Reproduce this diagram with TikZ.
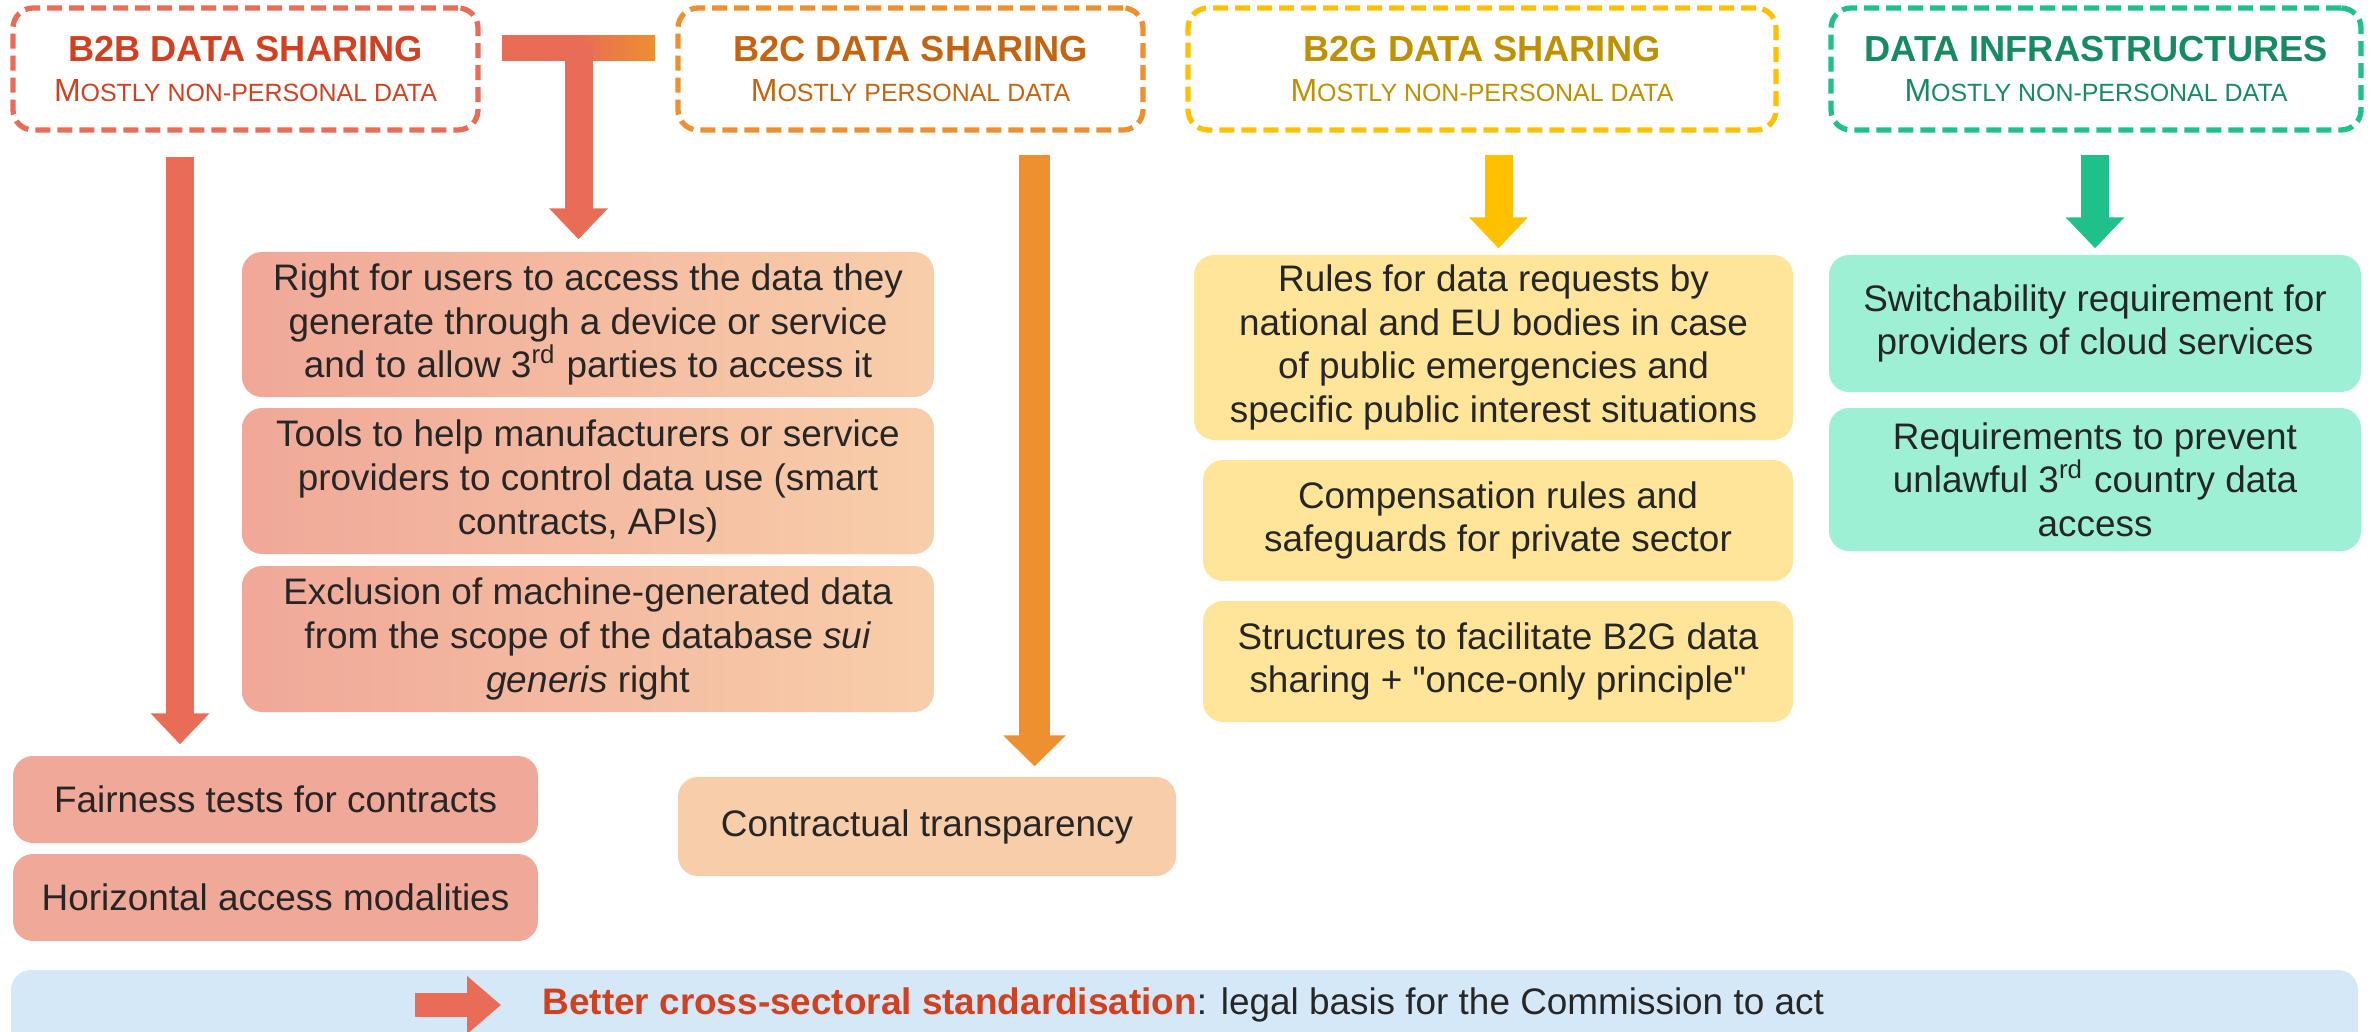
\documentclass[tikz,border=0pt]{standalone}
\usepackage{fontspec}
\setmainfont{Liberation Sans}
\usetikzlibrary{arrows.meta}

\definecolor{b2bline}{RGB}{232,108,86}
\definecolor{b2btext}{RGB}{210,64,32}
\definecolor{b2bfill}{RGB}{240,168,152}
\definecolor{b2cline}{RGB}{238,143,48}
\definecolor{b2ctext}{RGB}{196,100,16}
\definecolor{b2cfill}{RGB}{248,206,170}
\definecolor{b2gline}{RGB}{255,192,0}
\definecolor{b2gtext}{RGB}{191,144,0}
\definecolor{b2gfill}{RGB}{255,229,153}
\definecolor{infline}{RGB}{32,192,138}
\definecolor{inftext}{RGB}{22,138,96}
\definecolor{inffill}{RGB}{157,240,212}
\definecolor{barfill}{RGB}{213,232,247}
\definecolor{txt}{RGB}{38,38,38}

\tikzset{
	hdr/.style={draw=#1, line width=1.5pt, dash pattern=on 0.15cm off 0.07cm,
		rounded corners=0.2cm, minimum height=1.22cm, align=center, inner sep=0,
		font=\fontsize{9.1}{11.2}\selectfont},
	item/.style={rounded corners=0.2cm, align=center, inner sep=0, text=txt,
		font=\fontsize{10.5}{12.4}\selectfont},
	fat/.style={line width=0.28cm, -{Triangle[width=0.57cm,length=0.31cm]}},
}
\newcommand{\hdtitle}{\fontsize{10.3}{11.2}\selectfont\bfseries}
\newcommand{\fsc}[1]{{\fontsize{7.1}{8}\selectfont\MakeUppercase{#1}}}

\begin{document}
\begin{tikzpicture}
	\useasboundingbox (0,0) rectangle (23.74,-10.31);

	\node[hdr=b2bline, text=b2btext, minimum width=4.65cm] (b2b) at (2.455,-0.69)
		{{\hdtitle B2B DATA SHARING}\\M\fsc{ostly non-personal data}};
	\node[hdr=b2cline, text=b2ctext, minimum width=4.65cm] (b2c) at (9.105,-0.69)
		{{\hdtitle B2C DATA SHARING}\\M\fsc{ostly personal data}};
	\node[hdr=b2gline, text=b2gtext, minimum width=5.88cm] (b2g) at (14.82,-0.69)
		{{\hdtitle B2G DATA SHARING}\\M\fsc{ostly non-personal data}};
	\node[hdr=infline, text=inftext, minimum width=5.30cm] (inf) at (20.96,-0.69)
		{{\hdtitle DATA INFRASTRUCTURES}\\M\fsc{ostly non-personal data}};

	\node[item, left color=b2bfill, right color=b2cfill, minimum width=6.92cm, minimum height=1.45cm] (acc) at (5.88,-3.245)
		{Right for users to access the data they\\generate through a device or service\\and to allow 3\textsuperscript{rd} parties to access it};
	\node[item, left color=b2bfill, right color=b2cfill, minimum width=6.92cm, minimum height=1.46cm] (tools) at (5.88,-4.81)
		{Tools to help manufacturers or service\\providers to control data use (smart\\contracts, APIs)};
	\node[item, left color=b2bfill, right color=b2cfill, minimum width=6.92cm, minimum height=1.46cm] (excl) at (5.88,-6.39)
		{Exclusion of machine-generated data\\from the scope of the database \textit{sui}\\\textit{generis} right};
	\node[item, fill=b2bfill, minimum width=5.25cm, minimum height=0.87cm] (fair) at (2.755,-7.995) {Fairness tests for contracts};
	\node[item, fill=b2bfill, minimum width=5.25cm, minimum height=0.87cm] (horiz) at (2.755,-8.975) {Horizontal access modalities};
	\node[item, fill=b2cfill, minimum width=4.98cm, minimum height=0.99cm] (contr) at (9.27,-8.265) {Contractual transparency};

	\node[item, fill=b2gfill, minimum width=5.99cm, minimum height=1.85cm] (rules) at (14.935,-3.475)
		{Rules for data requests by\\national and EU bodies in case\\of public emergencies and\\specific public interest situations};
	\node[item, fill=b2gfill, minimum width=5.90cm, minimum height=1.21cm] (comp) at (14.98,-5.205)
		{Compensation rules and\\safeguards for private sector};
	\node[item, fill=b2gfill, minimum width=5.90cm, minimum height=1.21cm] (struct) at (14.98,-6.615)
		{Structures to facilitate B2G data\\sharing + \textquotedbl{}once-only principle\textquotedbl{}};

	\node[item, fill=inffill, minimum width=5.32cm, minimum height=1.37cm] (switch) at (20.95,-3.235)
		{Switchability requirement for\\providers of cloud services};
	\node[item, fill=inffill, minimum width=5.32cm, minimum height=1.43cm] (unlaw) at (20.95,-4.795)
		{Requirements to prevent\\unlawful 3\textsuperscript{rd} country data\\access};

	\coordinate (b2bA) at (1.80,-1.57);
	\coordinate (tee) at (5.785,-0.43);
	\coordinate (b2cA) at (10.345,-1.55);
	\coordinate (b2gA) at (14.985,-1.55);
	\coordinate (infA) at (20.95,-1.55);

	\shade[left color=b2bline, right color=b2cline, middle color=b2bline] ([xshift=0.214cm,yshift=0.33cm]b2b.east) rectangle ([xshift=-0.204cm,yshift=0.08cm]b2c.west);
	\draw[fat, b2bline, shorten >=0.12cm] (tee) -- (acc.north -| tee);
	\draw[fat, b2bline, shorten >=0.11cm] (b2bA) -- (fair.north -| b2bA);
	\draw[fat, b2cline, line width=0.31cm, -{Triangle[width=0.61cm,length=0.31cm]}, shorten >=0.10cm] (b2cA) -- (contr.north -| b2cA);
	\draw[fat, b2gline, shorten >=0.06cm] (b2gA) -- (rules.north -| b2gA);
	\draw[fat, infline, shorten >=0.06cm] (infA) -- (switch.north -| infA);

	\fill[barfill, rounded corners=0.2cm] (0.11,-9.70) rectangle (23.58,-10.8);
	\node[anchor=west, inner sep=0, text=txt, font=\fontsize{10.5}{12.4}\selectfont] (std) at (5.42,-10.05)
		{\textcolor{b2btext}{\bfseries Better cross-sectoral standardisation}: legal basis for the Commission to act};
	\coordinate (stdA) at (4.15,-10.05);
	\draw[fat, b2bline, line width=0.24cm, -{Triangle[width=0.56cm,length=0.34cm]}] (stdA) -- ([xshift=-0.41cm]std.west);
\end{tikzpicture}
\end{document}
